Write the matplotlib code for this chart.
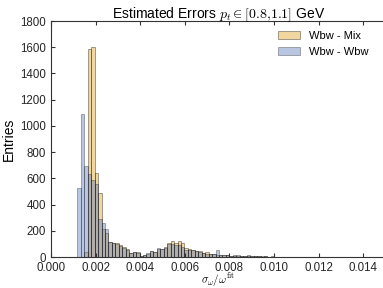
import numpy as np
import matplotlib
matplotlib.use("Agg")
import matplotlib.pyplot as plt

plt.rcParams['font.family'] = ['Liberation Sans', 'DejaVu Sans']
plt.rcParams['mathtext.fontset'] = 'cm'

# histogram binning (shared by both samples)
bin_start = 0.00118
bin_width = 0.000155

# counts per bin
mix_counts = [0, 0, 40, 1585, 1600, 643, 491, 211, 185, 115,
              110, 105, 95, 78, 62, 32, 38, 35, 10, 14,
              26, 42, 40, 62, 58, 78, 110, 120, 105, 125,
              110, 72, 58, 55, 45, 42, 30, 35, 22, 20,
              18, 14, 12, 16, 10, 12, 8, 10, 6, 18,
              8, 5, 6, 4, 5, 3, 4, 2, 3, 2,
              3, 1, 2, 1, 2, 1, 1, 0, 1, 1,
              0, 1, 0, 1, 0, 1, 0, 0, 1, 0,
              1, 0, 0, 1, 0, 0]
wbw_counts = [527, 1090, 694, 630, 587, 560, 290, 257, 210, 118,
              104, 96, 84, 71, 56, 28, 36, 30, 8, 13,
              28, 46, 41, 66, 58, 71, 100, 97, 90, 95,
              80, 55, 52, 50, 42, 38, 28, 25, 24, 20,
              55, 16, 12, 14, 10, 9, 12, 8, 7, 6,
              5, 4, 5, 3, 4, 2, 3, 2, 2, 1,
              2, 1, 1, 2, 1, 0, 1, 1, 0, 1,
              0, 0, 1, 0, 1, 0, 0, 1, 0, 0,
              0, 1, 0, 0, 0, 0]
labels = ['Wbw - Mix', 'Wbw - Wbw']

edges = bin_start + bin_width * np.arange(len(mix_counts))

fig = plt.figure(figsize=(3.83, 2.88), dpi=100)
ax = fig.add_axes([51/383, 31/288, 334.5/383, 236/288])

ax.bar(edges, mix_counts, width=bin_width, align='edge', color='#E5AF41',
       alpha=0.5, edgecolor='k', linewidth=0.5, label=labels[0])
ax.bar(edges, wbw_counts, width=bin_width, align='edge', color='#5A78B8',
       alpha=0.42, edgecolor='k', linewidth=0.5, label=labels[1])

ax.set_xlim(0, 0.015)
ax.set_ylim(0, 1800)
ax.set_xticks(np.arange(0, 0.0141, 0.002))
ax.set_xticklabels(['%.3f' % t for t in np.arange(0, 0.0141, 0.002)])
ax.tick_params(direction='in', length=3, labelsize=8.3, top=True, colors='#333333',
               labelcolor='#262626')
ax.tick_params(axis='x', pad=3.5)
for s in ax.spines.values():
    s.set_color('#333333')
ax.set_title(r'Estimated Errors $p_t \in [0.8{,}1.1]$ GeV', fontsize=10, pad=2)
ax.set_xlabel(r'$\sigma_{\omega}/\omega^{\rm fit}$', fontsize=8, labelpad=-1.5)
ax.set_ylabel('Entries', fontsize=10, labelpad=3)
ax.legend(loc='upper right', bbox_to_anchor=(0.98, 1.0), frameon=False, fontsize=8)

fig.savefig('out.png', dpi=100)
